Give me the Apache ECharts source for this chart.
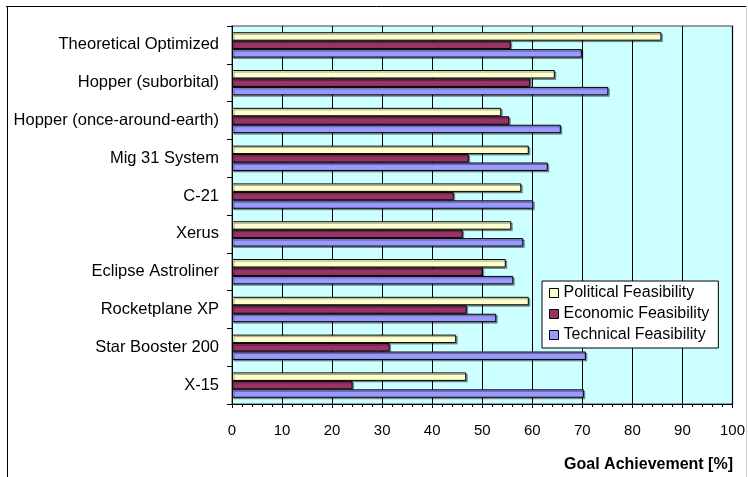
<!DOCTYPE html>
<html>
<head>
<meta charset="utf-8">
<script src="https://cdn.jsdelivr.net/npm/echarts@6/dist/echarts.min.js"></script>
<style>
  html, body { margin: 0; padding: 0; background: #fff; }
  #main { width: 748px; height: 477px; }
</style>
</head>
<body>
<div id="main"></div>
<script>
// vehicles, top to bottom as in the chart
const vehicles = [
  'Theoretical Optimized',
  'Hopper (suborbital)',
  'Hopper (once-around-earth)',
  'Mig 31 System',
  'C-21',
  'Xerus',
  'Eclipse Astroliner',
  'Rocketplane XP',
  'Star Booster 200',
  'X-15'
];
const political = [85.8, 64.5, 53.8, 59.3, 57.8, 55.8, 54.7, 59.3, 44.8, 46.8];
const economic = [55.7, 59.6, 55.4, 47.3, 44.3, 46.1, 50.1, 46.9, 31.5, 24.1];
const technical = [69.9, 75.2, 65.7, 63.1, 60.2, 58.2, 56.2, 52.8, 70.7, 70.3];
const xTicks = [0, 10, 20, 30, 40, 50, 60, 70, 80, 90, 100];

const font = 'Liberation Sans, Arial, sans-serif';
const chart = echarts.init(document.getElementById('main'));

function barSeries(name, data, color) {
  return {
    name: name,
    type: 'bar',
    data: data,
    barGap: '0%',
    barCategoryGap: '33%',
    itemStyle: {
      color: color,
      borderColor: '#000',
      borderWidth: 1,
      shadowColor: 'rgba(0,0,0,0.35)',
      shadowOffsetX: 1.5,
      shadowOffsetY: 1.5,
      shadowBlur: 0
    },
    emphasis: { disabled: true }
  };
}

chart.setOption({
  animation: false,
  textStyle: { fontFamily: font },
  title: {
    text: 'Goal Achievement [%]',
    right: 15,
    top: 457,
    padding: 0,
    textStyle: { fontFamily: font, fontSize: 16, fontWeight: 'bold', color: '#000' }
  },
  legend: {
    orient: 'vertical',
    left: 542,
    top: 281,
    backgroundColor: '#fff',
    borderColor: '#000',
    borderWidth: 1,
    padding: [4, 9, 5, 7],
    itemWidth: 9,
    itemHeight: 9,
    itemGap: 5,
    icon: 'rect',
    itemStyle: { borderColor: '#000', borderWidth: 1, shadowBlur: 0, shadowOffsetX: 0, shadowOffsetY: 0 },
    textStyle: { fontFamily: font, fontSize: 16, color: '#000', lineHeight: 16 },
    data: ['Political Feasibility', 'Economic Feasibility', 'Technical Feasibility']
  },
  grid: {
    left: 232,
    right: 15,
    top: 26,
    bottom: 73,
    show: true,
    backgroundColor: '#CCFFFF',
    borderColor: '#808080',
    borderWidth: 1.5
  },
  xAxis: {
    type: 'value',
    min: xTicks[0],
    max: xTicks[xTicks.length - 1],
    interval: 10,
    axisLine: { show: true, lineStyle: { color: '#000', width: 1 } },
    axisTick: { show: true, length: 4, lineStyle: { color: '#000' } },
    minorTick: { show: true, splitNumber: 5, length: 3, lineStyle: { color: '#000' } },
    splitLine: { show: true, lineStyle: { color: '#000', width: 1 } },
    axisLabel: { fontFamily: font, fontSize: 15, color: '#000', margin: 19 }
  },
  yAxis: {
    type: 'category',
    inverse: true,
    data: vehicles,
    axisLine: { show: true, lineStyle: { color: '#000', width: 1 } },
    axisTick: { show: true, length: 5, lineStyle: { color: '#000' } },
    splitLine: { show: false },
    axisLabel: { fontFamily: font, fontSize: 16.5, color: '#000', margin: 13 }
  },
  series: [
    barSeries('Political Feasibility', political, '#FFFFCC'),
    barSeries('Economic Feasibility', economic, '#993366'),
    barSeries('Technical Feasibility', technical, '#9999FF')
  ],
  graphic: [
    // outer frame of the chart area
    { type: 'line', silent: true, shape: { x1: 6, y1: 6.5, x2: 747, y2: 6.5 }, style: { stroke: '#000', lineWidth: 1 } },
    { type: 'line', silent: true, shape: { x1: 7.5, y1: 6, x2: 7.5, y2: 477 }, style: { stroke: '#000', lineWidth: 1 } },
    { type: 'line', silent: true, shape: { x1: 746.5, y1: 6, x2: 746.5, y2: 477 }, style: { stroke: '#d0d0d0', lineWidth: 1 } }
  ]
});
</script>
</body>
</html>
